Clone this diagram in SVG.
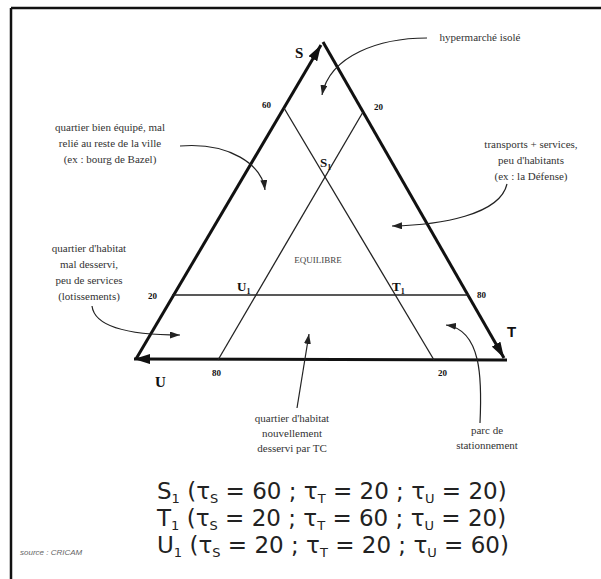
<svg xmlns="http://www.w3.org/2000/svg" width="601" height="579" viewBox="0 0 601 579">
<style>
.edge{stroke:#111;stroke-width:3;fill:none}
.inner{stroke:#222;stroke-width:1.3;fill:none}
.conn{stroke:#222;stroke-width:1.2;fill:none}
.ann{font-family:"Liberation Serif",serif;font-size:11px;fill:#333;text-anchor:middle}
.num{font-family:"Liberation Serif",serif;font-size:9px;font-weight:bold;fill:#111}
.pt{font-family:"Liberation Serif",serif;font-size:13px;font-weight:bold;fill:#111}
.sub{font-size:8px}
.eq{font-family:"DejaVu Sans",sans-serif;font-size:23px;fill:#222}
.esub{font-size:13px}
</style>
<defs>
<marker id="big" markerUnits="userSpaceOnUse" viewBox="0 0 16 10" refX="16" refY="5" markerWidth="16" markerHeight="10" orient="auto">
<path d="M0,0 L16,5 L0,10 Z" fill="#111"/>
</marker>
<marker id="small" markerUnits="userSpaceOnUse" viewBox="0 0 10 7" refX="10" refY="3.5" markerWidth="10" markerHeight="7" orient="auto">
<path d="M0,0 L10,3.5 L0,7 Z" fill="#222"/>
</marker>
</defs>
<g id="frame">
<line x1="11" y1="8" x2="601" y2="8" stroke="#111" stroke-width="2.5"/>
<line x1="11" y1="8" x2="11" y2="579" stroke="#111" stroke-width="2.5"/>
</g>
<g id="connectors">
<line class="edge" x1="136" y1="359" x2="321" y2="45" marker-end="url(#big)"/>
<line class="edge" x1="323" y1="42" x2="504" y2="358" marker-end="url(#big)"/>
<line class="edge" x1="507" y1="360" x2="134" y2="359" marker-end="url(#big)"/>
<line class="inner" x1="284" y1="108" x2="434" y2="360"/>
<line class="inner" x1="363" y1="112" x2="218" y2="360"/>
<line class="inner" x1="172" y1="295" x2="469" y2="295"/>
<path class="conn" d="M427,38 C380,38 330,55 322,95" marker-end="url(#small)"/>
<path class="conn" d="M180,146 C230,142 262,165 265,190" marker-end="url(#small)"/>
<path class="conn" d="M507,184 C500,215 440,225 392,226" marker-end="url(#small)"/>
<path class="conn" d="M92,306 C95,330 140,335 180,335" marker-end="url(#small)"/>
<path class="conn" d="M297,408 L309,334" marker-end="url(#small)"/>
<path class="conn" d="M480,423 C482,380 482,330 446,325" marker-end="url(#small)"/>
</g>
<g id="vertex-S"><text x="295" y="58" font-family="Liberation Serif,serif" font-size="15" font-weight="bold" fill="#111">S</text></g>
<g id="vertex-T"><text x="507" y="337" font-family="Liberation Sans,sans-serif" font-size="15" font-weight="bold" fill="#111">T</text></g>
<g id="vertex-U"><text x="155" y="387" font-family="Liberation Serif,serif" font-size="15" font-weight="bold" fill="#111">U</text></g>
<g id="scale-labels">
<text class="num" x="262" y="108">60</text>
<text class="num" x="374" y="110">20</text>
<text class="num" x="148" y="299">20</text>
<text class="num" x="477" y="298">80</text>
<text class="num" x="212" y="376">80</text>
<text class="num" x="438" y="376">20</text>
</g>
<g id="point-S1"><text class="pt" x="320" y="167">S<tspan class="sub" dy="3">1</tspan></text></g>
<g id="point-U1"><text class="pt" x="237" y="291">U<tspan class="sub" dy="3">1</tspan></text></g>
<g id="point-T1"><text class="pt" x="392" y="291">T<tspan class="sub" dy="3">1</tspan></text></g>
<g id="equilibre"><text x="318" y="263" font-family="Liberation Serif,serif" font-size="9" fill="#444" text-anchor="middle">EQUILIBRE</text></g>
<g id="note-hypermarche"><text class="ann" x="480" y="41">hypermarché isolé</text></g>
<g id="note-quartier-bien">
<text class="ann" x="110" y="131">quartier bien équipé, mal</text>
<text class="ann" x="110" y="147">relié au reste de la ville</text>
<text class="ann" x="110" y="163">(ex : bourg de Bazel)</text>
</g>
<g id="note-transports">
<text class="ann" x="531" y="148">transports + services,</text>
<text class="ann" x="531" y="164">peu d'habitants</text>
<text class="ann" x="531" y="180">(ex : la Défense)</text>
</g>
<g id="note-lotissements">
<text class="ann" x="89" y="252">quartier d'habitat</text>
<text class="ann" x="89" y="268">mal desservi,</text>
<text class="ann" x="89" y="284">peu de services</text>
<text class="ann" x="89" y="300">(lotissements)</text>
</g>
<g id="note-tc">
<text class="ann" x="292" y="422">quartier d'habitat</text>
<text class="ann" x="292" y="437">nouvellement</text>
<text class="ann" x="292" y="452">desservi par TC</text>
</g>
<g id="note-parc">
<text class="ann" x="487" y="434">parc de</text>
<text class="ann" x="487" y="449">stationnement</text>
</g>
<g id="equations">
<text class="eq" x="157" y="499">S<tspan class="esub" dy="4">1</tspan><tspan dy="-4"> (τ</tspan><tspan class="esub" dy="4">S</tspan><tspan dy="-4"> = 60 ; τ</tspan><tspan class="esub" dy="4">T</tspan><tspan dy="-4"> = 20 ; τ</tspan><tspan class="esub" dy="4">U</tspan><tspan dy="-4"> = 20)</tspan></text>
<text class="eq" x="157" y="526">T<tspan class="esub" dy="4">1</tspan><tspan dy="-4"> (τ</tspan><tspan class="esub" dy="4">S</tspan><tspan dy="-4"> = 20 ; τ</tspan><tspan class="esub" dy="4">T</tspan><tspan dy="-4"> = 60 ; τ</tspan><tspan class="esub" dy="4">U</tspan><tspan dy="-4"> = 20)</tspan></text>
<text class="eq" x="157" y="553">U<tspan class="esub" dy="4">1</tspan><tspan dy="-4"> (τ</tspan><tspan class="esub" dy="4">S</tspan><tspan dy="-4"> = 20 ; τ</tspan><tspan class="esub" dy="4">T</tspan><tspan dy="-4"> = 20 ; τ</tspan><tspan class="esub" dy="4">U</tspan><tspan dy="-4"> = 60)</tspan></text>
</g>
<g id="source"><text x="20" y="555" font-family="Liberation Sans,sans-serif" font-size="8" font-style="italic" fill="#666">source : CRICAM</text></g>
</svg>
